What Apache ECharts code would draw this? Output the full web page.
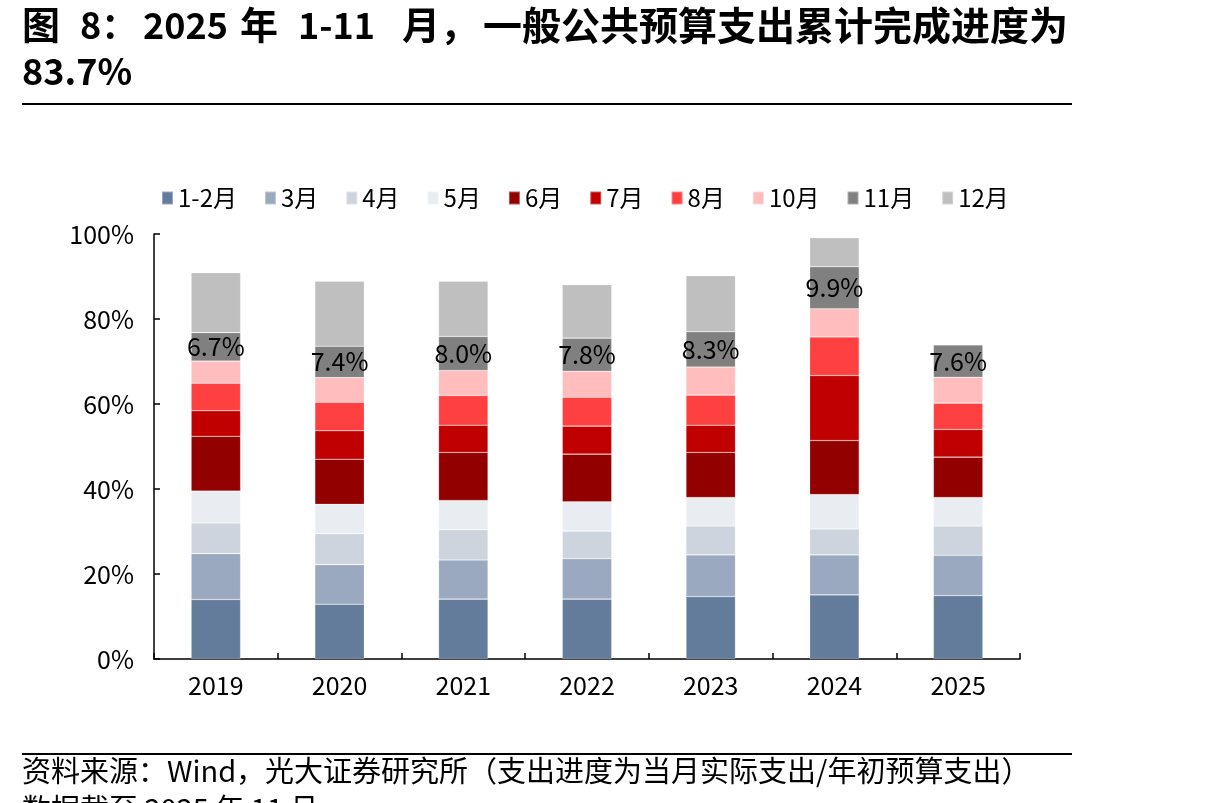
<!DOCTYPE html>
<html>
<head>
<meta charset="utf-8">
<script src="https://cdn.jsdelivr.net/npm/echarts@6/dist/echarts.min.js"></script>
<style>
  html, body { margin: 0; padding: 0; background: #fff; }
  #main { width: 1210px; height: 803px; }
</style>
</head>
<body>
<div id="main"></div>
<script>
// 年份
const years = ['2019', '2020', '2021', '2022', '2023', '2024', '2025'];
// 各月支出进度（%），逐月增量，堆叠
const m1to2 = [14.0, 12.9, 14.1, 14.1, 14.7, 15.1, 14.9];
const m3 = [10.8, 9.3, 9.2, 9.5, 9.8, 9.4, 9.5];
const m4 = [7.2, 7.3, 7.1, 6.5, 6.8, 6.1, 6.9];
const m5 = [7.5, 6.9, 6.9, 6.9, 6.7, 8.1, 6.7];
const m6 = [12.9, 10.6, 11.3, 11.2, 10.6, 12.7, 9.5];
const m7 = [6.0, 6.7, 6.4, 6.6, 6.4, 15.3, 6.5];
const m8 = [6.5, 6.7, 7.0, 6.8, 7.1, 9.1, 6.2];
const m10 = [5.2, 5.8, 5.9, 6.1, 6.6, 6.6, 6.1];
const m11 = [6.7, 7.4, 8.0, 7.8, 8.3, 9.9, 7.6];
const m12 = [14.1, 15.3, 13.0, 12.6, 13.2, 6.8, null];
const yTicks = [0, 20, 40, 60, 80, 100];

const font = "'Noto Sans CJK SC', 'Noto Sans', sans-serif";

const seriesDefs = [
  { name: '1-2月', data: m1to2, color: '#647c9c' },
  { name: '3月', data: m3, color: '#9aa9bf' },
  { name: '4月', data: m4, color: '#cdd4dd' },
  { name: '5月', data: m5, color: '#e9edf2' },
  { name: '6月', data: m6, color: '#920000' },
  { name: '7月', data: m7, color: '#c00000' },
  { name: '8月', data: m8, color: '#ff4040' },
  { name: '10月', data: m10, color: '#ffbdbd' },
  { name: '11月', data: m11, color: '#808080', label: true },
  { name: '12月', data: m12, color: '#bfbfbf' }
];

// 标题分段（原图字距较宽）
const titleParts = [
  ['图', 22, 38], ['8：', 80, 36], ['2025', 143, 36], ['年', 240, 38],
  ['1-11', 298, 36], ['月，', 402, 38], ['一般公共预算支出累计完成进度为', 483, 39]
];

const chart = echarts.init(document.getElementById('main'), null, { renderer: 'canvas' });

const graphics = titleParts.map(([t, x, size]) => ({
  type: 'text', left: x, top: 27 - size / 2 - 2,
  style: { text: t, font: 'bold ' + size + 'px ' + font, fill: '#000' }
}));
graphics.push(
  {
    type: 'text', left: 22, top: 53,
    style: { text: '83.7%', font: 'bold 36px ' + font, fill: '#000' }
  },
  {
    type: 'line', shape: { x1: 22, y1: 104, x2: 1072, y2: 104 },
    style: { stroke: '#000', lineWidth: 2 }
  },
  {
    type: 'line', shape: { x1: 22, y1: 754, x2: 1072, y2: 754 },
    style: { stroke: '#000', lineWidth: 2 }
  },
  {
    type: 'text', left: 22, top: 756,
    style: {
      text: '资料来源：Wind，光大证券研究所（支出进度为当月实际支出/年初预算支出）',
      font: '29px ' + font, fill: '#000'
    }
  },
  {
    type: 'text', left: 22, top: 794,
    style: { text: '数据截至 2025 年 11 月', font: '29px ' + font, fill: '#000' }
  }
);

const option = {
  animation: false,
  textStyle: { fontFamily: font },
  graphic: graphics,
  legend: {
    left: 156, top: 181,
    itemWidth: 11, itemHeight: 13, itemGap: 27,
    icon: 'rect',
    textStyle: { fontSize: 24, color: '#000', fontFamily: font },
    data: seriesDefs.map(s => s.name)
  },
  grid: { left: 154, right: 190, top: 234, bottom: 144 },
  xAxis: {
    type: 'category',
    data: years,
    axisLine: { lineStyle: { color: '#000', width: 1.5 } },
    axisTick: { show: true, inside: true, length: 6, lineStyle: { color: '#000', width: 1.5 } },
    axisLabel: { fontSize: 25, color: '#000', margin: 14 },
    splitLine: { show: false }
  },
  yAxis: {
    type: 'value',
    min: 0, max: 100, interval: 20,
    axisLine: { show: true, lineStyle: { color: '#000', width: 1.5 } },
    axisTick: { show: true, inside: true, length: 6, lineStyle: { color: '#000', width: 1.5 } },
    axisLabel: {
      fontSize: 25, color: '#000', margin: 20,
      formatter: v => yTicks.includes(v) ? v + '%' : ''
    },
    splitLine: { show: false }
  },
  series: seriesDefs.map(s => ({
    name: s.name,
    type: 'bar',
    stack: 'total',
    barWidth: '40%',
    data: s.data,
    itemStyle: { color: s.color, borderColor: 'rgba(255,255,255,0.35)', borderWidth: 0.6 },
    label: s.label ? {
      show: true,
      position: 'inside',
      fontSize: 25,
      color: '#000',
      fontFamily: font,
      formatter: p => p.value.toFixed(1) + '%'
    } : { show: false }
  }))
};

chart.setOption(option);
</script>
</body>
</html>
